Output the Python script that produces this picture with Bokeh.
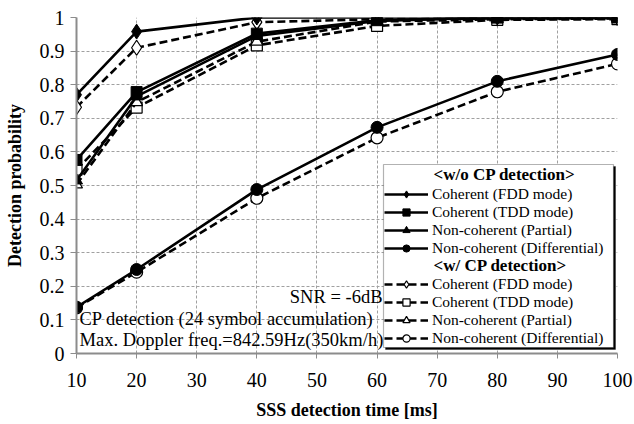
from bokeh.plotting import figure
from bokeh.models import (Range1d, SingleIntervalTicker, CustomJSTickFormatter,
                          Legend, LegendItem, Label, BoxAnnotation)
from bokeh.embed import file_html
from bokeh.resources import INLINE

# ---------------- data ----------------
time_ms = [10, 20, 40, 60, 80, 100]

wo_coh_fdd = [0.77, 0.958, 1.0, 1.0, 1.0, 1.0]
wo_coh_tdd = [0.576, 0.778, 0.952, 0.992, 1.0, 1.0]
wo_nc_partial = [0.515, 0.765, 0.945, 0.99, 1.0, 1.0]
wo_nc_diff = [0.138, 0.25, 0.488, 0.673, 0.81, 0.89]

w_coh_fdd = [0.733, 0.91, 0.986, 0.995, 0.997, 0.998]
w_coh_tdd = [0.547, 0.732, 0.917, 0.975, 0.993, 0.995]
w_nc_partial = [0.503, 0.748, 0.928, 0.988, 0.995, 0.997]
w_nc_diff = [0.136, 0.242, 0.462, 0.642, 0.779, 0.862]

labels = ["Coherent (FDD mode)", "Coherent (TDD mode)",
          "Non-coherent (Partial)", "Non-coherent (Differential)"]
header_wo = "<w/o CP detection>"
header_w = "<w/ CP detection>"
note_snr = "SNR = -6dB"
note_cp = "CP detection  (24 symbol accumulation)"
note_dop = "Max. Doppler freq.=842.59Hz(350km/h)"
x_title = "SSS detection time [ms]"
y_title = "Detection probability"

# ---------------- layout ----------------
W, H = 634, 424
FL, FR, FT, FB = 76, 617, 17, 353
X0, X1, Y0, Y1 = 10, 100, 0, 1
SERIF = "'Liberation Serif', 'Times New Roman', serif"


def dx(px):
    return X0 + (px - FL) / (FR - FL) * (X1 - X0)


def dy(py):
    return Y0 + (FB - py) / (FB - FT) * (Y1 - Y0)


p = figure(width=W, height=H, output_backend="svg", toolbar_location=None,
           x_range=Range1d(X0, X1), y_range=Range1d(Y0, Y1),
           min_border_left=FL, min_border_right=W - FR,
           min_border_top=FT, min_border_bottom=H - FB)
p.outline_line_color = None
p.background_fill_color = "white"
p.border_fill_color = "white"

p.xaxis.ticker = SingleIntervalTicker(interval=10)
p.yaxis.ticker = SingleIntervalTicker(interval=0.1)
p.yaxis.formatter = CustomJSTickFormatter(code="return String(Number(tick.toFixed(1)));")

for ax in (p.xaxis, p.yaxis):
    ax.axis_line_color = "#8c8c8c"
    ax.axis_line_width = 2
    ax.major_tick_line_color = "#8c8c8c"
    ax.major_tick_line_width = 1
    ax.major_tick_in = 0
    ax.minor_tick_line_color = None
    ax.major_label_text_font = SERIF
    ax.major_label_text_font_size = "20px"
    ax.major_label_text_color = "black"
    ax.axis_label_text_font = SERIF
    ax.axis_label_text_font_size = "18px"
    ax.axis_label_text_font_style = "bold"
    ax.axis_label_text_color = "black"

p.xaxis.major_tick_out = 5
p.yaxis.major_tick_out = 6
p.xaxis.major_label_standoff = 14
p.yaxis.major_label_standoff = 6
p.xaxis.axis_label = x_title
p.yaxis.axis_label = y_title
p.xaxis.axis_label_standoff = 10
p.yaxis.axis_label_standoff = 12

for g in (p.xgrid, p.ygrid):
    g.grid_line_color = "#a0a0a0"
    g.grid_line_width = 1
    g.grid_line_dash = "3 2"

LW = 2.6
markers = ["diamond", "square", "triangle", "circle"]
sizes = [15, 11, 12, 12]

solid_series = [wo_coh_fdd, wo_coh_tdd, wo_nc_partial, wo_nc_diff]
dash_series = [w_coh_fdd, w_coh_tdd, w_nc_partial, w_nc_diff]

items_solid = []
items_dash = []
for ys, m, s in zip(dash_series, markers, sizes):
    l = p.line(time_ms, ys, line_color="black", line_width=LW, line_dash="8 4")
    sc = p.scatter(time_ms, ys, marker=m, size=s, fill_color="white",
                   line_color="black", line_width=1.2)
    items_dash.append([l, sc])
for ys, m, s in zip(solid_series, markers, sizes):
    l = p.line(time_ms, ys, line_color="black", line_width=LW)
    sc = p.scatter(time_ms, ys, marker=m, size=s, fill_color="black",
                   line_color="black", line_width=1)
    items_solid.append([l, sc])

blank = p.line([], [], line_alpha=0)

# legend frame (shadow + white box) drawn before the texts and the legend
p.add_layout(BoxAnnotation(left=dx(385), right=dx(615), top=dy(166), bottom=dy(349),
                           fill_color="black", fill_alpha=1, line_color="black",
                           line_width=1))
p.add_layout(BoxAnnotation(left=dx(383), right=dx(613), top=dy(164), bottom=dy(347),
                           fill_color="white", fill_alpha=1, line_color="black",
                           line_width=1.2))

for txt, py in ((header_wo, 174), (header_w, 265)):
    p.add_layout(Label(x=dx(433), y=dy(py), text=txt, text_font=SERIF,
                       text_font_size="17px", text_font_style="bold",
                       text_baseline="middle", text_align="left",
                       text_color="black"))

legend_items = [LegendItem(label=" ", renderers=[blank])]
legend_items += [LegendItem(label=t, renderers=r) for t, r in zip(labels, items_solid)]
legend_items += [LegendItem(label="  ", renderers=[blank])]
legend_items += [LegendItem(label=t, renderers=r) for t, r in zip(labels, items_dash)]

legend = Legend(items=legend_items, location=(308, 6),
                label_text_font=SERIF, label_text_font_size="15.5px",
                label_text_color="black",
                label_height=18, glyph_height=18, glyph_width=44,
                label_standoff=4, spacing=0, padding=2, margin=0,
                border_line_color=None,
                background_fill_color="white", background_fill_alpha=0)
p.add_layout(legend, "center")

p.add_layout(Label(x=dx(382), y=dy(296), text=note_snr, text_font=SERIF,
                   text_font_size="18.5px", text_baseline="middle",
                   text_align="right", text_color="black"))
for txt, py in ((note_cp, 318), (note_dop, 339)):
    p.add_layout(Label(x=dx(79), y=dy(py), text=txt, text_font=SERIF,
                       text_font_size="18.5px", text_baseline="middle",
                       text_align="left", text_color="black"))

open("out.html", "w").write(file_html(p, INLINE))
